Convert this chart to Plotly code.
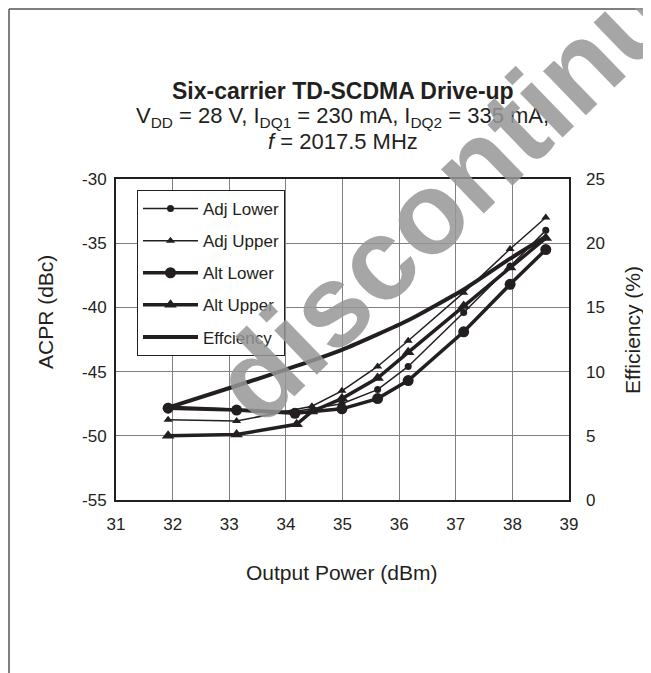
import plotly.graph_objects as go

# ---- data ----
pout_lower = [31.92, 33.13, 34.16, 34.99, 35.62, 36.16, 37.14, 37.96, 38.59]
adj_lower = [-47.7, -47.9, -48.1, -47.5, -46.4, -44.6, -40.4, -36.8, -34.0]
alt_lower = [-47.85, -48.0, -48.25, -47.9, -47.1, -45.7, -41.9, -38.2, -35.5]

pout_adj_upper = [31.92, 33.13, 34.46, 34.99, 35.62, 36.16, 37.14, 37.96, 38.59]
adj_upper = [-48.75, -48.85, -47.7, -46.5, -44.6, -42.6, -38.85, -35.45, -33.0]

pout_alt_upper = [31.92, 33.13, 34.19, 34.46, 34.99, 35.62, 36.16, 37.14, 37.96, 38.59]
alt_upper = [-50.0, -49.9, -49.1, -48.1, -47.1, -45.5, -43.5, -39.9, -36.9, -34.6]

pout_eff = [31.92, 33.13, 34.16, 34.99, 35.62, 36.16, 37.14, 37.96, 38.59]
efficiency = [7.2, 8.9, 10.4, 11.7, 12.9, 14.0, 16.4, 18.8, 20.5]

x_ticks = [31, 32, 33, 34, 35, 36, 37, 38, 39]
acpr_ticks = [-55, -50, -45, -40, -35, -30]
acpr_labels = ["-55", "-50", "-45", "-40", "-35", "-30"]
eff_ticks = [0, 5, 10, 15, 20, 25]

BLACK = "#231f20"
FONT = "Liberation Sans, Arial, sans-serif"

fig = go.Figure()
fig.add_trace(go.Scatter(x=pout_lower, y=adj_lower, name="Adj Lower", mode="lines+markers",
                         line=dict(color=BLACK, width=1.5),
                         marker=dict(symbol="circle", size=7, color=BLACK), legendgroup="a"))
fig.add_trace(go.Scatter(x=pout_adj_upper, y=adj_upper, name="Adj Upper", mode="lines+markers",
                         line=dict(color=BLACK, width=1.5),
                         marker=dict(symbol="triangle-up", size=8, color=BLACK), legendgroup="b"))
fig.add_trace(go.Scatter(x=pout_lower, y=alt_lower, name="Alt Lower", mode="lines+markers",
                         line=dict(color=BLACK, width=3.5),
                         marker=dict(symbol="circle", size=11, color=BLACK), legendgroup="c"))
fig.add_trace(go.Scatter(x=pout_alt_upper, y=alt_upper, name="Alt Upper", mode="lines+markers",
                         line=dict(color=BLACK, width=3.5),
                         marker=dict(symbol="triangle-up", size=11, color=BLACK), legendgroup="d"))
fig.add_trace(go.Scatter(x=pout_eff, y=efficiency, name="Effciency", mode="lines", yaxis="y2",
                         line=dict(color=BLACK, width=4, shape="spline", smoothing=0.6), legendgroup="e"))

# The page body adds an 8 px margin, so the figure is 643x665 and every
# reference pixel position is shifted by -8 in figure coordinates.
OFF = 8
W, H = 651 - OFF, 673 - OFF
L, R, T, B = 116 - OFF, 569 - OFF, 179 - OFF, 500 - OFF
pw, ph = R - L, B - T


def px(x):
    return (x - OFF - L) / pw


def py(y):
    return (B - (y - OFF)) / ph


fig.update_layout(
    width=W, height=H,
    margin=dict(l=L, r=W - R, t=T, b=H - B, autoexpand=False),
    paper_bgcolor="white", plot_bgcolor="white",
    font=dict(family=FONT, color=BLACK, size=17),
    showlegend=True,
    legend=dict(x=px(137), y=py(190), xanchor="left", yanchor="top",
                bgcolor="white", bordercolor=BLACK, borderwidth=1,
                font=dict(size=17, family=FONT, color=BLACK),
                traceorder="grouped", tracegroupgap=7, itemwidth=55),
    xaxis=dict(range=[31, 39], tickvals=x_ticks, showgrid=True, gridcolor="#808080", gridwidth=1,
               showline=True, linecolor=BLACK, linewidth=2, mirror=True, zeroline=False,
               ticks="", ticklabelstandoff=8, tickfont=dict(size=17)),
    yaxis=dict(range=[-55, -30], tickvals=acpr_ticks, ticktext=acpr_labels, showgrid=True,
               gridcolor="#808080", gridwidth=1,
               showline=True, linecolor=BLACK, linewidth=2, mirror=True, zeroline=False,
               ticks="", ticklabelstandoff=4, tickfont=dict(size=17)),
    yaxis2=dict(range=[0, 25], tickvals=eff_ticks, overlaying="y", side="right", showgrid=False,
                zeroline=False, showline=False, ticks="", ticklabelstandoff=16, tickfont=dict(size=17)),
)

# axis titles
fig.add_annotation(xref="paper", yref="paper", x=px(341), y=py(572), text="Output Power (dBm)",
                   showarrow=False, font=dict(size=21, family=FONT, color=BLACK),
                   xanchor="center", yanchor="middle")
fig.add_annotation(xref="paper", yref="paper", x=px(45), y=py(312), text="ACPR (dBc)",
                   showarrow=False, textangle=-90, font=dict(size=21, family=FONT, color=BLACK),
                   xanchor="center", yanchor="middle")
fig.add_annotation(xref="paper", yref="paper", x=px(632), y=py(330), text="Efficiency (%)",
                   showarrow=False, textangle=-90, font=dict(size=21, family=FONT, color=BLACK),
                   xanchor="center", yanchor="middle")

# title lines
fig.add_annotation(xref="paper", yref="paper", x=0.5, y=py(91), text="<b>Six-carrier TD-SCDMA Drive-up</b>",
                   showarrow=False, font=dict(size=23, family=FONT, color=BLACK), xanchor="center", yanchor="middle")
fig.add_annotation(xref="paper", yref="paper", x=0.5, y=py(117),
                   text="V<sub>DD</sub> = 28 V, I<sub>DQ1</sub> = 230 mA, I<sub>DQ2</sub> = 335 mA,",
                   showarrow=False, font=dict(size=22, family=FONT, color=BLACK), xanchor="center", yanchor="middle")
fig.add_annotation(xref="paper", yref="paper", x=0.5, y=py(141), text="<i>f</i> = 2017.5 MHz",
                   showarrow=False, font=dict(size=22, family=FONT, color=BLACK), xanchor="center", yanchor="middle")

# watermark
fig.add_annotation(xref="paper", yref="paper", x=px(492), y=py(150), text="<b>discontinued</b>",
                   showarrow=False, textangle=-44, font=dict(size=116, family=FONT, color="rgba(150,150,150,0.85)"),
                   xanchor="center", yanchor="middle")

# page frame (top and left edges)
fig.add_shape(type="line", xref="paper", yref="paper", x0=px(9), y0=py(673), x1=px(9), y1=py(9),
              line=dict(color="#555555", width=1.5))
fig.add_shape(type="line", xref="paper", yref="paper", x0=px(9), y0=py(9), x1=px(651), y1=py(9),
              line=dict(color="#555555", width=1.5))

fig.write_html("out.html")
